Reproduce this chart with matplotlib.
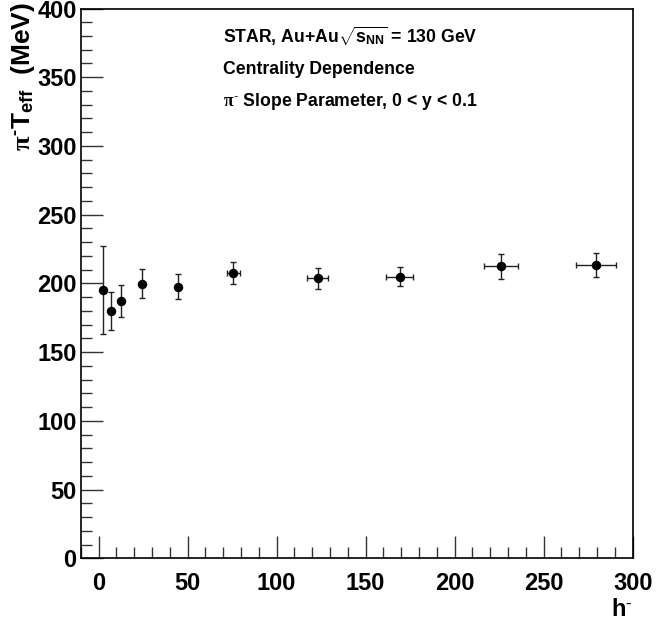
import matplotlib
matplotlib.use("Agg")
import matplotlib.pyplot as plt
from matplotlib.ticker import MultipleLocator

plt.rcParams['font.family'] = ['Liberation Sans', 'DejaVu Sans']
plt.rcParams['font.weight'] = 'bold'
plt.rcParams['mathtext.fontset'] = 'custom'
plt.rcParams['mathtext.rm'] = 'Liberation Serif'
plt.rcParams['mathtext.it'] = 'Liberation Serif'
plt.rcParams['mathtext.bf'] = 'Liberation Sans:bold'
plt.rcParams['mathtext.sf'] = 'Liberation Sans:bold'

# data: h- multiplicity vs pi- effective temperature (MeV)
h_minus = [2.8, 6.9, 12.5, 24.3, 44.6, 75.8, 123.1, 169.2, 226.1, 279.2]
h_minus_err = [0, 0, 0, 0, 0, 3.9, 6.0, 7.6, 9.6, 11.2]
t_eff = [195.0, 180.1, 187.4, 199.8, 197.6, 207.8, 203.6, 204.9, 212.4, 213.4]
t_eff_err = [32.0, 14.0, 11.7, 10.4, 9.2, 8.0, 7.9, 6.8, 8.9, 8.5]

W, H = 658, 624
fig = plt.figure(figsize=(W / 100, H / 100), dpi=100)
ax = fig.add_axes([80.7 / W, 1 - 558.3 / H, (632.7 - 80.7) / W, (558.3 - 8.5) / H])

ax.errorbar(h_minus, t_eff, xerr=h_minus_err, yerr=t_eff_err, fmt='o', color='black',
            ms=5.8, elinewidth=1.0, ecolor='#222222', capsize=2.2, capthick=1.0)

ax.set_xlim(-10, 300)
ax.set_ylim(0, 400)
ax.xaxis.set_major_locator(MultipleLocator(50))
ax.xaxis.set_minor_locator(MultipleLocator(10))
ax.yaxis.set_major_locator(MultipleLocator(50))
ax.yaxis.set_minor_locator(MultipleLocator(10))
ax.tick_params(which='both', direction='in', top=False, right=False, labelsize=17, color='#333333')
ax.tick_params(axis='x', which='major', length=16, width=1.0, pad=10)
ax.tick_params(axis='y', which='major', length=16, width=1.0, pad=3)
ax.tick_params(which='minor', length=8, width=1.0)
for lbl in ax.get_xticklabels() + ax.get_yticklabels():
    lbl.set_fontweight('bold')
for s in ax.spines.values():
    s.set_linewidth(1.2)

# x-axis title "h-" at the right end, below the tick labels
fig.text(610.7 / W, 1 - 616 / H, r'h$^{\text{-}}$', fontsize=17, fontweight='bold',
         ha='left', va='baseline')

# y-axis title, right-aligned at the top
fig.text(23 / W, 1 - 2 / H, r'$\pi^{\text{-}}$T$_{\mathbf{eff}}$  (MeV)', rotation=90, fontsize=19,
         fontweight='bold', ha='center', va='top')

fs = 12.7
fig.text(223 / W, 1 - 42.7 / H, r'STAR, Au+Au$\sqrt{\mathbf{s}_{\mathbf{NN}}}$ = 130 GeV',
         fontsize=fs, fontweight='bold', va='baseline', ha='left')
fig.text(223 / W, 1 - 74.3 / H, 'Centrality Dependence',
         fontsize=fs, fontweight='bold', va='baseline', ha='left')
fig.text(222.7 / W, 1 - 106 / H, r'$\pi^{\text{-}}$ Slope Parameter, 0 < y < 0.1',
         fontsize=fs, fontweight='bold', va='baseline', ha='left')

fig.savefig('out.png', dpi=100)
